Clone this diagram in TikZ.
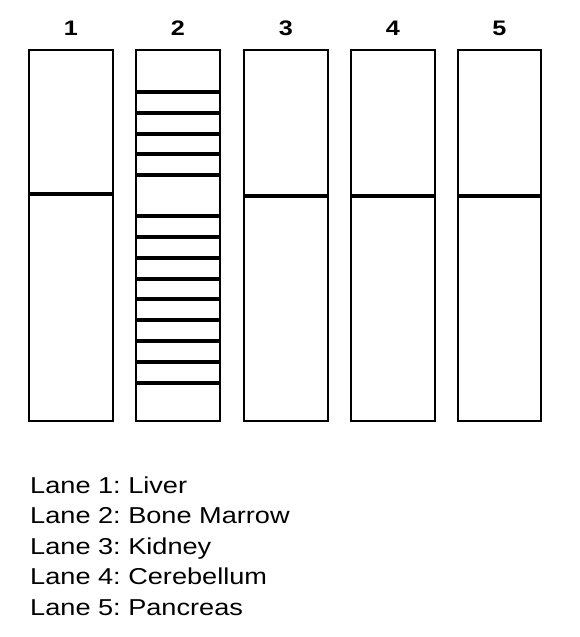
\documentclass[tikz,border=0pt]{standalone}
\usepackage{fontspec}
\setmainfont{Liberation Sans}
\frenchspacing
\begin{document}
\begin{tikzpicture}[x=1pt,y=-1pt,
  lanebox/.style={draw=black,line width=2.7pt,fill=white},
  band/.style={line width=4.2pt,draw=black},
  lanenum/.style={font=\fontsize{21}{21}\selectfont\bfseries,anchor=base,xscale=1.2,transform shape},
  legend/.style={font=\fontsize{23}{23}\selectfont,anchor=base west,inner sep=0pt,xscale=1.18,transform shape}]
\useasboundingbox (0,0) rectangle (580,637);
% lanes
\foreach \i/\xl/\xr in {1/29/113, 2/136/220, 3/244/328, 4/351/435, 5/458/541}{
  \draw[lanebox] (\xl,50) rectangle (\xr,421);
  \node[lanenum] (n\i) at ({(\xl+\xr)/2},35) {\i};
}
% single bands
\draw[band] (29,194) -- (113,194);
\foreach \xl/\xr in {244/328, 351/435, 458/541}{
  \draw[band] (\xl,196) -- (\xr,196);
}
% lane 2 bands
\foreach \y in {92,113,134,154,175,216,237,258,279,299,320,341,362,383}{
  \draw[band] (136,\y) -- (220,\y);
}
% legend
\node[legend] (l1) at (30,493) {Lane 1: Liver};
\node[legend] (l2) at (30,523.5) {Lane 2: Bone Marrow};
\node[legend] (l3) at (30,554) {Lane 3: Kidney};
\node[legend] (l4) at (30,584.5) {Lane 4: Cerebellum};
\node[legend] (l5) at (30,615) {Lane 5: Pancreas};
\end{tikzpicture}
\end{document}
